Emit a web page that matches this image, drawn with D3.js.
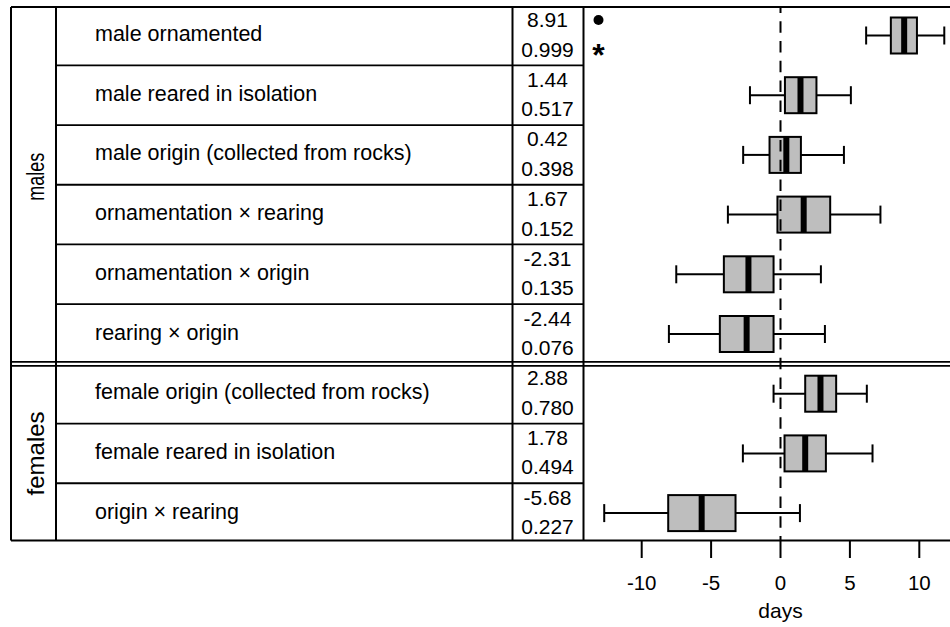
<!DOCTYPE html>
<html>
<head>
<meta charset="utf-8">
<script src="https://cdn.jsdelivr.net/npm/d3@7"></script>
<style>
  html, body { margin: 0; padding: 0; background: #fff; }
  svg { display: block; font-family: "Liberation Sans", Arial, Helvetica, sans-serif; }
</style>
</head>
<body>
<svg id="chart" width="950" height="627"></svg>
<script>
// Model terms, grouped by sex
const groupNames = ["males", "females"];
const groupSizes = [6, 3];
const termLabels = [
  "male ornamented",
  "male reared in isolation",
  "male origin (collected from rocks)",
  "ornamentation \u00d7 rearing",
  "ornamentation \u00d7 origin",
  "rearing \u00d7 origin",
  "female origin (collected from rocks)",
  "female reared in isolation",
  "origin \u00d7 rearing"
];
// Effect estimates (days) and posterior probabilities
const estimates = [8.91, 1.44, 0.42, 1.67, -2.31, -2.44, 2.88, 1.78, -5.68];
const probabilities = [0.999, 0.517, 0.398, 0.152, 0.135, 0.076, 0.780, 0.494, 0.227];
// Box-and-whisker summaries of the posterior (days)
const whiskerLow  = [6.17, -2.20, -2.69, -3.79, -7.51, -8.04, -0.50, -2.71, -12.70];
const quartile1   = [7.95,  0.32, -0.79, -0.22, -4.08, -4.37,  1.78,  0.29,  -8.09];
const quartile3   = [9.83,  2.59,  1.47,  3.58, -0.50, -0.50,  4.01,  3.27,  -3.24];
const whiskerHigh = [11.80, 5.07,  4.57,  7.20,  2.91,  3.20,  6.22,  6.63,   1.40];
// Rows flagged with a dot / asterisk
const dotRows = [0];
const starRows = [0];
// Axis ticks
const xTicks = [-10, -5, 0, 5, 10];
const xTitle = "days";

const svg = d3.select("#chart");
const nRows = termLabels.length;

// Layout
const W = 950;
const tableTop = 7, tableBottom = 540.5;
const colGroupL = 11, colLabelL = 56, colNumL = 512.5, colNumR = 583.5;

const x = d3.scaleLinear().domain([-10, 10]).range([641.7, 919.3]);
const yEdge = d3.scaleLinear().domain([0, nRows]).range([5.65, 542.95]);
const yc = i => yEdge(i + 0.5);

const boxH = 36, capH = 18;
const ink = "#000";

svg.append("rect").attr("width", 950).attr("height", 627).attr("fill", "#fff");

// Boxplots
const plot = svg.append("g");
const rows = d3.range(nRows);

// whiskers
plot.selectAll("line.wl").data(rows).join("line")
  .attr("x1", i => x(whiskerLow[i])).attr("x2", i => x(quartile1[i]))
  .attr("y1", yc).attr("y2", yc)
  .attr("stroke", ink).attr("stroke-width", 2);
plot.selectAll("line.wh").data(rows).join("line")
  .attr("x1", i => x(quartile3[i])).attr("x2", i => x(whiskerHigh[i]))
  .attr("y1", yc).attr("y2", yc)
  .attr("stroke", ink).attr("stroke-width", 2);
// caps
plot.selectAll("line.cl").data(rows).join("line")
  .attr("x1", i => x(whiskerLow[i])).attr("x2", i => x(whiskerLow[i]))
  .attr("y1", i => yc(i) - capH / 2).attr("y2", i => yc(i) + capH / 2)
  .attr("stroke", ink).attr("stroke-width", 2);
plot.selectAll("line.ch").data(rows).join("line")
  .attr("x1", i => x(whiskerHigh[i])).attr("x2", i => x(whiskerHigh[i]))
  .attr("y1", i => yc(i) - capH / 2).attr("y2", i => yc(i) + capH / 2)
  .attr("stroke", ink).attr("stroke-width", 2);

// zero reference line
svg.append("line")
  .attr("x1", x(0)).attr("x2", x(0))
  .attr("y1", tableTop).attr("y2", tableBottom)
  .attr("stroke", ink).attr("stroke-width", 2)
  .attr("stroke-dasharray", "11.5,8.3").attr("stroke-dashoffset", 5.6);

// boxes
plot.selectAll("rect.box").data(rows).join("rect")
  .attr("x", i => x(quartile1[i])).attr("width", i => x(quartile3[i]) - x(quartile1[i]))
  .attr("y", i => yc(i) - boxH / 2).attr("height", boxH)
  .attr("fill", "#bebebe").attr("stroke", ink).attr("stroke-width", 2);
// medians
plot.selectAll("line.med").data(rows).join("line")
  .attr("x1", i => x(estimates[i])).attr("x2", i => x(estimates[i]))
  .attr("y1", i => yc(i) - boxH / 2).attr("y2", i => yc(i) + boxH / 2)
  .attr("stroke", ink).attr("stroke-width", 6);

// Table frame
const frame = svg.append("g").attr("stroke", ink).attr("fill", "none");
frame.append("line").attr("x1", colGroupL).attr("x2", W).attr("y1", tableTop).attr("y2", tableTop).attr("stroke-width", 2);
frame.append("line").attr("x1", colGroupL).attr("x2", W).attr("y1", tableBottom).attr("y2", tableBottom).attr("stroke-width", 2);
[colGroupL, colLabelL, colNumL, colNumR].forEach(cx => {
  frame.append("line").attr("x1", cx).attr("x2", cx).attr("y1", tableTop).attr("y2", tableBottom).attr("stroke-width", 2);
});
// row separators within a group
const groupStarts = groupSizes.map((s, g) => d3.sum(groupSizes.slice(0, g)));
const innerBreaks = d3.range(1, nRows).filter(k => !groupStarts.includes(k));
frame.selectAll("line.sep").data(innerBreaks).join("line")
  .attr("x1", colLabelL).attr("x2", colNumR)
  .attr("y1", k => yEdge(k)).attr("y2", k => yEdge(k))
  .attr("stroke-width", 1.8);
// double line between groups
groupStarts.slice(1).forEach(k => {
  [-2, 2].forEach(off => {
    frame.append("line").attr("x1", colGroupL).attr("x2", W)
      .attr("y1", yEdge(k) + off).attr("y2", yEdge(k) + off)
      .attr("stroke-width", 1.8);
  });
});

// Text
const txt = svg.append("g").attr("fill", ink);
txt.selectAll("text.term").data(rows).join("text")
  .attr("x", 95).attr("y", i => yc(i) + 5.5)
  .attr("font-size", 21.5)
  .text(i => termLabels[i]);

const fmtEst = d3.format(".2f"), fmtP = d3.format(".3f");
txt.selectAll("text.est").data(rows).join("text")
  .attr("x", 547.5).attr("y", i => yc(i) - 8.5)
  .attr("text-anchor", "middle").attr("font-size", 21)
  .text(i => fmtEst(estimates[i]).replace("\u2212", "-"));
txt.selectAll("text.prob").data(rows).join("text")
  .attr("x", 547.5).attr("y", i => yc(i) + 21)
  .attr("text-anchor", "middle").attr("font-size", 21)
  .text(i => fmtP(probabilities[i]));

// markers beside the numbers
svg.selectAll("circle.dot").data(dotRows).join("circle")
  .attr("cx", 598.5).attr("cy", i => yc(i) - 15.5).attr("r", 5).attr("fill", ink);
svg.selectAll("text.star").data(starRows).join("text")
  .attr("x", 598.5).attr("y", i => yc(i) + 30)
  .attr("text-anchor", "middle").attr("font-size", 32).attr("font-weight", "bold")
  .text("*");

// group labels (the males label sits a little above its block centre)
const groupLabelShift = [-8, 0];
const groupLabelSize = [23, 24];
groupNames.forEach((name, g) => {
  const start = groupStarts[g], end = start + groupSizes[g];
  const cy = (yEdge(start) + yEdge(end)) / 2 + groupLabelShift[g];
  const t = svg.append("text")
    .attr("transform", `translate(44,${cy}) rotate(-90)`)
    .attr("text-anchor", "middle").attr("font-size", groupLabelSize[g])
    .text(name);
  if (g === 0) t.attr("textLength", 48).attr("lengthAdjust", "spacingAndGlyphs");
});

// x axis
const axis = svg.append("g");
axis.selectAll("line.tick").data(xTicks).join("line")
  .attr("x1", d => x(d)).attr("x2", d => x(d))
  .attr("y1", tableBottom).attr("y2", 558)
  .attr("stroke", ink).attr("stroke-width", 2);
axis.selectAll("text.tick").data(xTicks).join("text")
  .attr("x", d => x(d)).attr("y", 590)
  .attr("text-anchor", "middle").attr("font-size", 20.5)
  .text(d => String(d));
axis.append("text")
  .attr("x", x(0)).attr("y", 618)
  .attr("text-anchor", "middle").attr("font-size", 21)
  .text(xTitle);
</script>
</body>
</html>
